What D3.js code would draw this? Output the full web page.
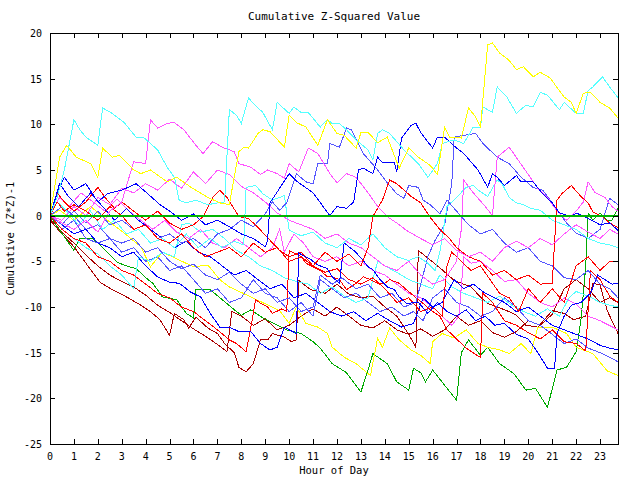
<!DOCTYPE html>
<html>
<head>
<meta charset="utf-8">
<script src="https://cdn.jsdelivr.net/npm/d3@7"></script>
<style>
  body { margin: 0; background: #fff; }
  text { font-family: "DejaVu Sans Mono", monospace; fill: #000; }
</style>
</head>
<body>
<div class="canvas"></div>
<script>
/**
 * Data: [hour, cumulative value]
 */
const hourTicks = d3.range(0, 24)
const valueTicks = d3.range(-25, 21, 5)
const zeroLine = [[0, 0], [23.75, 0]]

const yellowA = [[0,0],[0.4,6.4],[0.7,7.7],[1.1,6.4],[1.7,5.7],[2.0,4.2],[2.2,7.4],[2.6,6.4],[2.9,6.6],[3.5,5.0],[3.8,4.6],[4.2,5.0],[4.9,3.7],[5.3,4.2],[5.9,3.1],[6.6,2.0],[7.1,1.4],[7.5,1.2],[7.7,4.2],[7.9,7.0],[8.1,7.5],[8.3,7.4],[8.7,9.0],[8.9,9.4],[9.2,9.2],[9.8,7.5],[10.0,11.0],[10.3,10.2],[10.7,9.7],[11.2,7.7],[11.6,10.5],[12.0,9.0],[12.3,8.8],[12.8,7.4],[13.0,9.1],[13.3,9.1],[13.7,8.0],[14.1,8.6],[14.6,5.2],[15.0,7.4],[15.4,6.4],[15.9,5.5],[16.2,4.5],[16.5,9.7],[16.7,8.6],[17.2,8.5],[17.5,11.8],[17.8,10.8],[18.0,9.7],[18.3,18.7],[18.5,18.9],[18.8,17.8],[19.2,17.0],[19.5,16.0],[19.8,16.3],[20.2,15.2],[20.5,15.7],[20.9,15.1],[21.5,13.0],[21.8,12.4],[22.0,11.2],[22.3,13.4],[22.6,13.5],[23.0,12.4],[23.4,11.8],[23.75,10.7]]
const yellowB = [[0,0],[0.4,0.6],[1,-0.5],[1.7,1],[2.4,-0.5],[3.1,-1.9],[3.8,-3.4],[4.2,-5.6],[4.7,-4],[5.2,-4.6],[6,-5.6],[6.6,-5.4],[7.1,-7],[7.5,-7.8],[8.4,-8.9],[9.6,-10.4],[10,-11.8],[10.3,-10],[10.7,-11.8],[11.2,-12.2],[11.6,-12.9],[11.8,-14.4],[12.3,-15.5],[12.8,-16.2],[13.3,-17.3],[13.4,-17.5],[13.7,-13.4],[13.9,-14.4],[14.2,-12.3],[14.6,-13.6],[15.1,-14.7],[15.5,-15.3],[15.9,-16.2],[16.0,-13.8],[16.4,-12.9],[16.9,-13.4],[17.4,-12.5],[17.9,-14],[18.3,-14.4],[18.8,-14.7],[19.2,-15.1],[19.7,-14],[20.1,-15.1],[20.4,-12.2],[21,-12.2],[21.6,-12.9],[22,-14.4],[22.7,-15.1],[23.3,-17],[23.75,-17.5]]
const cyanA = [[0,0],[0.3,2],[0.6,5],[1.0,10.5],[1.25,9.4],[1.5,8.6],[2.0,7.7],[2.2,11.8],[2.6,11.2],[3.1,10.2],[3.6,8.6],[3.9,8.6],[4.5,7.2],[4.9,5.3],[5.2,4.2],[5.4,1.7],[5.7,1.4],[6.1,1.7],[6.6,1.2],[7.0,1.4],[7.3,1.5],[7.5,11.6],[7.8,11.0],[8.0,10.1],[8.3,12.9],[8.5,12.3],[8.9,11.3],[9.3,9.4],[9.5,12.4],[10.0,11.2],[10.2,11.9],[10.5,11.3],[10.8,11.3],[11.3,9.7],[11.6,10.5],[11.8,10.1],[12.1,10.1],[12.4,9.4],[12.8,8.3],[13.3,7.2],[13.5,6.1],[13.7,9.0],[13.9,9.4],[14.2,9.0],[14.8,7.2],[15.4,5.7],[15.8,4.2],[16.2,5.7],[16.4,7.9],[16.9,8.3],[17.3,7.9],[17.7,9.7],[18.0,9.7],[18.1,11.9],[18.5,11.3],[18.7,14.1],[19.1,13.0],[19.5,11.2],[19.9,12.1],[20.2,11.9],[20.5,13.5],[20.8,13.2],[21.3,11.6],[21.5,12.4],[22.0,11.2],[22.3,11.2],[22.5,13.7],[22.7,14.1],[23.1,15.2],[23.4,14.1],[23.75,12.9]]
const cyanB = [[0,0],[0.3,1.5],[0.7,0.5],[1.2,-1],[1.7,0.5],[2.2,-1.5],[2.7,-0.5],[3.2,-2],[3.7,-1.5],[4.2,-3],[4.7,-2.5],[5.2,-3.5],[5.7,-2],[6.2,-3.5],[6.7,-2.5],[7.2,-3.5],[7.7,-2.8],[8.1,-3.2],[8.2,3.1],[8.6,3.3],[8.9,2.4],[9.3,1.7],[9.8,2.2],[10,-1.6],[10.5,-2.2],[11,-1.8],[11.5,-3],[12,-3.5],[12.5,-2.5],[13,-3.2],[13.5,-2],[14,-3.5],[14.5,-4.5],[15,-4.9],[15.4,-4.5],[15.8,-5.2],[16.1,-6],[16.3,-4],[16.6,1],[17,2],[17.4,3.1],[17.7,3.3],[17.9,2.8],[18.3,2.1],[18.7,3.9],[18.9,3.5],[19.2,2],[19.5,1.4],[19.8,1.2],[20.1,0.8],[20.5,0.6],[21,-0.5],[21.5,-1],[22,-1.5],[22.5,-2.5],[23,-3],[23.4,-3.2],[23.75,-3.5]]
const cyanC = [[0,0],[0.5,-1.5],[1,-2.5],[1.5,-3.5],[2,-4.2],[2.5,-5.5],[3,-6.5],[3.5,-8],[3.7,-4.5],[4.2,-5],[4.7,-4],[5.2,-4.5],[5.5,-1],[5.8,-0.8],[6.3,-1.8],[6.8,-1.5],[7.3,-2.5],[7.8,-3.8],[8.3,-4.5],[8.8,-5.5],[9.3,-6],[9.8,-6.8],[10.3,-7.2],[10.8,-7.5],[11.3,-8.5],[11.8,-7.8],[12.3,-8.8],[12.8,-9.5],[13.3,-9],[13.7,-5],[14,-5.5],[14.5,-6.2],[15,-7],[15.5,-7.5],[16,-8],[16.3,-6.5],[16.8,-7.8],[17.3,-8.5],[17.8,-9],[18.3,-9.5],[18.8,-8.8],[19.3,-9.8],[19.8,-10.5],[20.3,-11],[20.8,-10.2],[21.3,-11],[21.7,-9],[22,-8.3],[22.5,-8.8],[23,-9.5],[23.4,-9.8],[23.75,-10]]
const magentaA = [[0,0],[0.5,-0.8],[1,-1.5],[1.5,-0.5],[2,-1.8],[2.5,0.5],[3,1.5],[3.5,5.9],[4.0,5.7],[4.2,10.5],[4.5,9.6],[4.9,10.1],[5.2,10.2],[5.6,9.4],[6.1,7.7],[6.4,6.8],[6.8,8.1],[7.2,7.5],[7.7,7.0],[7.9,5.7],[8.4,5.3],[8.8,4.5],[9.1,5.0],[9.5,4.6],[9.8,4.1],[10.0,5.7],[10.4,4.8],[10.8,7.4],[11.2,6.8],[11.7,4.6],[12.0,3.6],[12.4,4.6],[12.8,4.2],[13.3,2.5],[13.7,1.0],[14.1,-0.1],[14.5,-0.8],[14.9,-1.6],[15.5,-2.5],[16,-3.2],[16.5,-2.5],[17,-3.8],[17.5,-4.5],[18,-4],[18.5,-5],[19,-3.5],[19.5,-2.8],[20,-3.5],[20.5,-2.5],[21,-3.2],[21.5,-2],[22,-1],[22.5,-1.8],[23,-2.5],[23.4,-1.5],[23.75,-2]]
const magentaC = [[0,0],[0.4,2],[0.8,1],[1.3,2.5],[1.8,1.5],[2.3,0.5],[2.8,1.8],[3.3,0.5],[3.8,-0.5],[4.3,-1.5],[4.8,-0.5],[5.3,-1.8],[5.8,-2.5],[6.3,-1.5],[6.8,-3],[7.3,-3.5],[7.8,-2.5],[8.3,-3.5],[8.8,-4.5],[9.3,-3.5],[9.6,-1.5],[9.8,-4],[10.2,-2],[10.6,-3],[11,-4.5],[11.5,-5],[12,-4.5],[12.5,-5.5],[13,-5],[13.5,-6],[14,-6.5],[14.5,-7.5],[15,-8.5],[15.5,-9],[16,-10],[16.4,-11],[16.8,-12],[17.1,-11],[17.3,-4.5],[17.6,-5.2],[18,-5],[18.5,-6],[19,-7.2],[19.5,-7],[20,-8.5],[20.5,-9.5],[21,-10],[21.5,-9],[22,-9.7],[22.5,-11],[23,-11.5],[23.75,-12.5]]
const magentaD = [[0,0],[0.5,-0.5],[1,1],[1.5,0],[2,2],[2.5,1.2],[3,3],[3.5,2.5],[4,3.5],[4.5,2.8],[5,4],[5.5,3],[6,4.8],[6.5,3.5],[7,5],[7.5,4.5],[8,3.2],[8.5,2.5],[9,1.5],[9.5,0.3],[10,-0.5],[10.5,-1],[11,-1.5],[11.5,-2.5],[12,-2],[12.5,-3],[13,-3.5],[13.5,-4.5],[14,-5.5],[14.5,-6],[15,-5],[15.5,-6.5],[16,-7.5],[16.5,-7],[17,-5],[17.2,-1.5],[17.3,3.9],[17.7,2.5],[18.2,1],[18.5,0],[18.7,6.4],[19.2,7.5],[19.6,6],[20,4.5],[20.4,3],[20.8,2],[21.2,0.5],[21.6,-0.5],[22,0.5],[22.3,1.5],[22.5,3.7],[22.8,2.5],[23.2,2],[23.5,1],[23.75,0.5]]
const blueA = [[0,0],[0.3,2.5],[0.6,4.2],[1,2.8],[1.5,3.5],[2,1.5],[2.4,2.4],[3,2.8],[3.6,3.5],[4,2.6],[4.6,1.2],[5,0.5],[5.5,-0.5],[6,0.2],[6.5,-1],[7,-0.5],[7.5,-1.2],[8,-2],[8.5,-2.5],[9,-3.4],[9.1,-2.7],[9.2,1.4],[10,4.6],[10.3,3.8],[11,2.5],[11.7,0],[12,1.0],[12.4,0.8],[12.7,1.5],[12.9,5.0],[13.1,5.2],[13.5,4.6],[13.7,6.4],[13.9,5.8],[14.4,5.8],[14.5,4.8],[14.7,8.5],[15.1,9.9],[15.3,10.1],[15.5,9.1],[16,7.4],[16.2,8.6],[16.5,8.6],[17,7.4],[17.3,6.8],[17.9,5.0],[18.3,3.1],[18.5,4.6],[18.7,4.2],[19,3.3],[19.5,4.4],[19.7,3.7],[20.2,3.7],[20.6,2.4],[21,1.4],[21.3,0.3],[21.8,-0.1],[22,0.3],[22.5,-0.3],[23,-1],[23.4,-0.8],[23.75,-1.6]]
const blueB = [[0,0],[0.5,-1],[1,-2],[1.5,-1.5],[2,-3],[2.5,-3.5],[3,-4.5],[3.5,-4],[4,-5.5],[4.5,-6.7],[5,-7.3],[5.4,-7.4],[5.9,-8.4],[6.3,-8.9],[6.7,-10.7],[7.1,-12.2],[7.5,-12.2],[7.9,-12.7],[8.4,-12.7],[8.8,-14],[9.2,-14.7],[9.5,-14.4],[9.8,-12.2],[10,-12.5],[10.3,-12.9],[10.4,-4.1],[10.9,-4.8],[11.2,-5.4],[11.6,-5.8],[11.8,-6.7],[12.1,-7.4],[12.3,-3],[12.7,-3.8],[13,-4.6],[13.3,-5.6],[13.5,-5.9],[13.8,-7],[14.1,-7.8],[14.4,-8.1],[14.6,-8.9],[14.9,-9.6],[15.4,-9.5],[15.8,-10.7],[16.2,-9.5],[16.6,-10.5],[17,-11],[17.4,-10.3],[17.8,-11.5],[18.2,-11],[18.6,-12],[19,-11.8],[19.5,-13],[20,-13.5],[20.4,-15],[20.8,-16.7],[21.1,-16.7],[21.2,-12.9],[21.5,-11],[21.8,-9.8],[22.2,-9.5],[22.6,-8.5],[22.9,-6.5],[23.2,-7],[23.5,-7.5],[23.75,-7.4]]
const blueC = [[0,0],[0.4,3.5],[0.8,2],[1.2,1],[1.7,2.5],[2.2,1],[2.7,-0.5],[3.2,0.8],[3.7,-0.5],[4.2,-1.5],[4.7,-2.5],[5.2,-3.5],[5.7,-2.8],[6.2,-4],[6.7,-4.5],[7.2,-5.5],[7.7,-6.5],[8.2,-6],[8.7,-7],[9.2,-8],[9.7,-7.5],[10.2,-9],[10.7,-8.5],[11.2,-9.5],[11.7,-10.5],[12.2,-11],[12.7,-10.5],[13.2,-11.5],[13.7,-10.7],[14.2,-11.5],[14.7,-12.2],[15.2,-11.8],[15.6,-9],[16,-10],[16.4,-9.5],[16.9,-7],[17.3,-8],[17.7,-7.5],[18.2,-8.5],[18.6,-9],[19,-9.5],[19.5,-10.5],[20,-10],[20.5,-11],[21,-12],[21.5,-12.5],[22,-13],[22.5,-13.5],[23,-14.2],[23.4,-14.5],[23.75,-14.7]]
const lightBlueA = [[0,0],[0.5,-1],[1,0.5],[1.5,-0.8],[2,0.5],[2.5,-1],[3,-0.5],[3.5,-1.5],[4,-1],[4.5,-2.5],[5,-2],[5.5,-3],[6,-2.5],[6.5,-3.5],[7,-2],[7.5,-1.5],[8,-0.5],[8.5,-1.2],[9,0.2],[9.3,1.5],[9.6,0.6],[9.9,1.4],[10.3,4.6],[10.7,3.7],[11,3.5],[11.2,5.7],[11.6,5.7],[11.7,7.9],[12.1,7.5],[12.4,9.6],[12.6,9.4],[13.1,6.8],[13.7,5.0],[14.1,3.6],[14.5,2.4],[14.8,1.9],[15,3.3],[15.4,3.1],[15.6,1.7],[15.9,1.2],[16.3,0.2],[16.6,1.7],[17,0.5],[17.5,-1],[18,-2],[18.5,-1.5],[19,-3],[19.5,-4],[20,-3.5],[20.5,-5],[21,-5.5],[21.5,-6.8],[22,-7],[22.5,-6],[23,-7.5],[23.4,-8],[23.75,-9]]
const lightBlueB = [[0,0],[0.5,1],[1,0],[1.5,-1.5],[2,-1],[2.5,-2.5],[3,-3],[3.5,-2.5],[4,-4],[4.5,-3.5],[5,-5],[5.5,-5.8],[6,-5.3],[6.5,-6.5],[7,-7],[7.5,-6.2],[8,-7.5],[8.5,-8.5],[9,-8],[9.5,-9.5],[10,-9],[10.5,-10.5],[11,-10],[11.3,-6.5],[11.8,-7.5],[12.2,-6.8],[12.8,-8],[13.3,-7.5],[13.8,-9],[14.3,-8.5],[14.8,-10],[15.3,-9.5],[15.8,-4.5],[16.1,-2.7],[16.5,-1],[16.8,3.5],[16.9,8.6],[17.3,8.8],[17.8,9.0],[18.1,7.9],[18.7,6.4],[19.2,5.7],[19.7,4.2],[20.2,3.1],[20.6,2.8],[21,1.4],[21.6,-0.8],[22,-1.9],[22.5,-2.5],[23,-1.5],[23.4,1.9],[23.75,1.2]]
const lightBlueC = [[0,0],[0.5,-1.5],[1,-0.5],[1.5,-2.5],[2,-3],[2.5,-2.5],[3,-4],[3.5,-3.5],[4,-5],[4.5,-4.5],[5,-6],[5.5,-5.5],[6,-7],[6.5,-8.5],[7,-8],[7.5,-9.5],[8,-9],[8.5,-7],[9,-8.5],[9.5,-9],[10,-10.5],[10.5,-9.5],[11,-11],[11.3,-7],[11.8,-8],[12.3,-9],[12.8,-8.5],[13.3,-9.5],[13.8,-10.5],[14.3,-10],[14.8,-11],[15.2,-10.5],[15.6,-11.5],[16,-9],[16.5,-8],[17,-9.5],[17.5,-10],[18,-11],[18.5,-10.5],[19,-9],[19.5,-10],[20,-11.5],[20.5,-12],[21,-13],[21.5,-14],[22,-13.5],[22.5,-14.5],[23,-15],[23.4,-15.5],[23.75,-16]]
const redA = [[0,0],[0.3,1.5],[0.6,0.5],[1,1.2],[1.5,0.5],[2,-0.5],[2.5,1],[3,0],[3.5,-1.5],[4,-1],[4.5,-2.5],[5,-3],[5.5,-2],[6,-3.5],[6.5,-4.5],[7,-4],[7.5,-3.5],[8,-4.5],[8.5,-3],[9,-4],[9.5,-3.5],[10,-5],[10.5,-4.5],[11,-5.5],[11.5,-4],[12,-5],[12.5,-4.2],[13,-5.5],[13.3,-3.5],[13.5,-0.1],[13.9,1.7],[14.2,3.9],[14.5,3.5],[14.8,2.8],[15.1,2.1],[15.5,1.4],[15.9,-0.2],[16.3,-1.5],[16.7,-2.5],[17,-3.5],[17.5,-4.5],[18,-5],[18.5,-6.5],[19,-6],[19.5,-7],[20,-6.5],[20.5,-7.5],[21,-7.4],[21.2,1.7],[21.4,2.4],[21.8,3.3],[22.2,2.1],[22.5,1.4],[22.7,0.4],[23.1,-0.1],[23.4,-0.8],[23.75,-1.3]]
const redC = [[0,0],[0.3,2.5],[0.6,1.5],[1,0.5],[1.5,1.5],[2,3.1],[2.3,2],[2.7,0.8],[3,1.5],[3.5,0.5],[4,-0.5],[4.5,0.5],[5,-0.8],[5.5,-1.5],[6,-1],[6.4,-0.1],[6.8,2],[7.1,2.8],[7.4,2],[7.9,-0.1],[8.3,-0.3],[8.7,-1.3],[9.2,-2.7],[9.6,-3.8],[10,-4.5],[10.5,-4],[11,-5.5],[11.5,-6.2],[12,-5.8],[12.5,-7],[13,-7.5],[13.5,-6.8],[14,-8],[14.5,-9.5],[15,-9],[15.5,-10.5],[16,-10],[16.4,-11],[16.6,-5.5],[16.8,-4],[17.2,-5],[17.6,-6],[18,-5.5],[18.4,-7],[18.8,-8.5],[19.2,-9],[19.6,-10.5],[20,-8],[20.5,-9.5],[21,-8],[21.5,-9.5],[22,-5.5],[22.5,-4.5],[23,-6],[23.4,-5],[23.75,-5]]
const redD = [[0,0],[0.5,-1.5],[1,-2.5],[1.5,-3],[2,-4.5],[2.5,-5],[3,-6],[3.5,-6.5],[4,-7.5],[4.5,-8.5],[5,-9],[5.5,-10],[6,-10.5],[6.5,-11.5],[7,-12.5],[7.5,-13.6],[7.8,-14],[8.2,-14.9],[8.4,-12.2],[8.6,-9.2],[8.8,-9.6],[9.1,-10],[9.3,-10.7],[9.7,-10.2],[9.9,-10.5],[10,-3.8],[10.5,-4.5],[10.7,-5.2],[11,-5.6],[11.3,-6],[11.6,-6.7],[11.8,-6.7],[12.1,-7],[12.4,-8.1],[12.8,-7.4],[13.1,-6.7],[13.4,-7],[13.7,-7.4],[14,-7.4],[14.2,-7],[14.6,-7.4],[14.9,-8.1],[15.4,-9.2],[15.6,-9.6],[15.9,-10.3],[16.3,-11],[16.6,-12.5],[17,-13.5],[17.4,-14.5],[17.8,-15.2],[18,-15.5],[18.1,-8.5],[18.5,-9.5],[19,-11.5],[19.5,-12],[20,-12.8],[20.5,-13.5],[21,-12.5],[21.5,-13.8],[22,-14],[22.4,-14.8],[22.6,-6],[23,-7],[23.4,-8.8],[23.75,-9.5]]
const darkRed1 = [[0,-0.5],[0.5,-2],[1,-3.4],[1.5,-5.2],[2.1,-7.3],[2.6,-8.1],[3.2,-8.9],[3.8,-9.8],[4.2,-10.5],[4.6,-11.4],[5.0,-13.1],[5.2,-10.7],[5.6,-11.4],[5.8,-12.3],[6.1,-11.1],[6.6,-12.3],[7.0,-12.9],[7.3,-14.0],[7.7,-15.0],[7.9,-16.6],[8.2,-17.1],[8.5,-16.2],[8.8,-13.6],[9.1,-13.6],[9.3,-12.9],[9.8,-13.3],[10.1,-13.8],[10.3,-13.6],[10.4,-7.1],[10.9,-8.1],[11.5,-8.5],[12,-7.5],[12.5,-8.6],[13,-9],[13.5,-8.8],[14,-10],[14.5,-11],[15,-13],[15.3,-14.4],[15.4,-3.8],[16.3,-5.7],[16.9,-7.1],[17.6,-7.8],[18,-8.9],[18.3,-9.6],[18.7,-10],[19.1,-10.4],[19.5,-10.9],[19.9,-12],[20.4,-12.2],[21,-10.4],[21.5,-10.7],[21.9,-11.4],[22.4,-11],[22.7,-7.4],[23,-7.6],[23.3,-10.4],[23.75,-12.9]]
const darkRed2 = [[0,-0.3],[0.5,-1.8],[1,-3],[1.5,-4.3],[2,-5.5],[2.5,-6.5],[3,-7.2],[3.5,-7.8],[4,-8.7],[4.5,-9.8],[5,-10.6],[5.5,-11.5],[6,-12.4],[6.5,-13.2],[7,-14.1],[7.4,-14.9],[7.6,-10.5],[8,-11],[8.5,-12],[9,-11.3],[9.5,-12.5],[10,-12],[10.5,-11],[11,-10.2],[11.5,-11],[12,-10],[12.5,-11],[13,-12],[13.5,-12.3],[14,-11.5],[14.5,-12.5],[15,-13],[15.5,-12.4],[16,-13.2],[16.5,-12.5],[17,-11],[17.5,-12],[18,-11.5],[18.5,-12.8],[19,-13.3],[19.5,-12.7],[20,-11.5],[20.5,-12],[21,-10.8],[21.5,-8],[22,-7],[22.5,-8],[23,-9.5],[23.4,-9],[23.75,-9.5]]
const greenA = [[0,0],[0.3,-1.2],[1,-3.8],[1.25,-2.5],[1.8,-2.5],[2.4,-4],[2.8,-5.1],[3.3,-5.6],[3.6,-5.8],[4.1,-7.0],[4.3,-7.4],[4.7,-8.9],[5.3,-9.2],[5.7,-10.7],[6.0,-11.2],[6.1,-8.1],[6.7,-8.1],[7.2,-9.2],[7.8,-10.5],[8.0,-10.9],[8.4,-10.3],[8.9,-11.2],[9.5,-12],[9.9,-12.5],[10.5,-12.9],[11,-13.8],[11.3,-14.5],[11.8,-16.2],[12.4,-17.2],[13,-19.3],[13.3,-16.9],[13.5,-15.1],[14.1,-16.2],[14.5,-18.2],[15,-19.1],[15.2,-16.7],[15.5,-17.2],[15.7,-18.2],[16,-16.9],[16.6,-18.9],[17,-20.2],[17.2,-15],[17.5,-13.6],[18,-15.3],[18.3,-14.4],[18.8,-16.2],[19.4,-17.3],[19.9,-19.1],[20.3,-18.9],[20.8,-21],[21.2,-16.9],[21.6,-16.6],[22,-14.9],[22.2,-11.4],[22.4,-5.6],[22.5,0.3],[22.7,-0.5],[23,0.3],[23.3,-0.5],[23.5,-0.5],[23.75,0.8]]

const series = [
    { color: "#aa0000", values: darkRed1 },
    { color: "#aa0000", values: darkRed2 },
    { color: "#00aa00", values: greenA },
    { color: "#ffff00", values: yellowB },
    { color: "#5555ff", values: lightBlueC },
    { color: "#55ffff", values: cyanC },
    { color: "#ff55ff", values: magentaC },
    { color: "#0000ff", values: blueC },
    { color: "#ff0000", values: redD },
    { color: "#5555ff", values: lightBlueB },
    { color: "#ff0000", values: redC },
    { color: "#0000ff", values: blueB },
    { color: "#55ffff", values: cyanB },
    { color: "#ff55ff", values: magentaD },
    { color: "#5555ff", values: lightBlueA },
    { color: "#ff0000", values: redA },
    { color: "#ff55ff", values: magentaA },
    { color: "#0000ff", values: blueA },
    { color: "#55ffff", values: cyanA },
    { color: "#ffff00", values: yellowA },
    { color: "#00b400", values: zeroLine, width: 2 } // zero reference sits on top
]

/**
 * Dimension setup
 */
const dims = { width: 640, height: 480 }
const plot = { left: 50, right: 618, top: 33, bottom: 444 }

const svg = d3.select(".canvas")
    .append("svg")
    .attr("width", dims.width)
    .attr("height", dims.height)
    .style("display", "block")

svg.append("rect")
    .attr("width", dims.width)
    .attr("height", dims.height)
    .attr("fill", "#fff")

const x = d3.scaleLinear().domain([0, 23.75]).range([plot.left, plot.right])
const y = d3.scaleLinear().domain([-25, 20]).range([plot.bottom, plot.top])

/**
 * Lines
 */
const line = d3.line()
    .x(d => x(d[0]))
    .y(d => y(d[1]))

svg.append("g")
    .selectAll("path")
    .data(series)
    .enter()
    .append("path")
        .attr("d", d => line(d.values))
        .attr("fill", "none")
        .attr("stroke", d => d.color)
        .attr("stroke-width", d => d.width || 1)
        .attr("shape-rendering", "crispEdges")

/**
 * Frame and inward ticks on all four sides
 */
const frame = svg.append("g")
    .attr("shape-rendering", "crispEdges")
    .attr("stroke", "#000")

frame.append("rect")
    .attr("x", plot.left + 0.5)
    .attr("y", plot.top + 0.5)
    .attr("width", plot.right - plot.left)
    .attr("height", plot.bottom - plot.top)
    .attr("fill", "none")

const tickLen = 5

frame.selectAll(".xt")
    .data(hourTicks)
    .enter()
    .append("path")
        .attr("d", d => {
            const px = Math.round(x(d)) + 0.5
            return `M${px},${plot.bottom}v${-tickLen}M${px},${plot.top}v${tickLen}`
        })

frame.selectAll(".yt")
    .data(valueTicks)
    .enter()
    .append("path")
        .attr("d", d => {
            const py = Math.round(y(d)) + 0.5
            return `M${plot.left},${py}h${tickLen}M${plot.right},${py}h${-tickLen}`
        })

/**
 * Labels
 */
svg.append("g")
    .selectAll("text")
    .data(hourTicks)
    .enter()
    .append("text")
        .attr("x", d => x(d))
        .attr("y", 460)
        .attr("text-anchor", "middle")
        .attr("font-size", 10)
        .text(d => d)

svg.append("g")
    .selectAll("text")
    .data(valueTicks)
    .enter()
    .append("text")
        .attr("x", 42)
        .attr("y", d => y(d) + 4)
        .attr("text-anchor", "end")
        .attr("font-size", 10)
        .text(d => d)

svg.append("text")
    .attr("x", (plot.left + plot.right) / 2)
    .attr("y", 20)
    .attr("text-anchor", "middle")
    .attr("font-size", 11)
    .text("Cumulative Z-Squared Value")

svg.append("text")
    .attr("x", (plot.left + plot.right) / 2)
    .attr("y", 474)
    .attr("text-anchor", "middle")
    .attr("font-size", 10.5)
    .text("Hour of Day")

svg.append("text")
    .attr("transform", `translate(14,${(plot.top + plot.bottom) / 2}) rotate(-90)`)
    .attr("text-anchor", "middle")
    .attr("font-size", 10.5)
    .text("Cumulative (Z*Z)-1")
</script>
</body>
</html>
